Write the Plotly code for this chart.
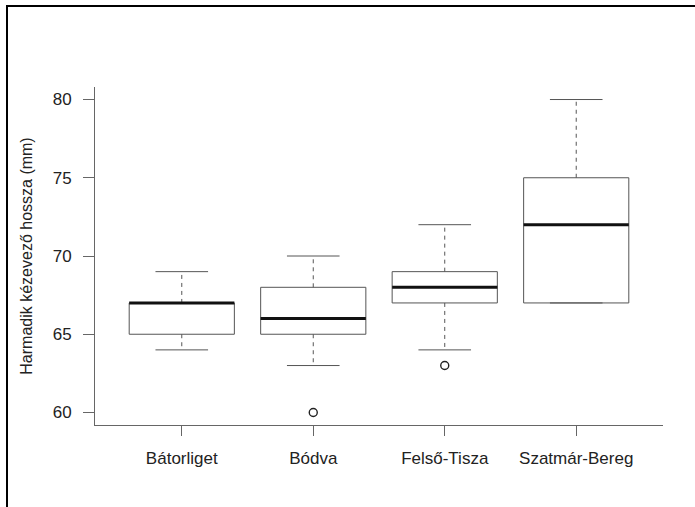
import plotly.graph_objects as go

categories = ["Bátorliget", "Bódva", "Felső-Tisza", "Szatmár-Bereg"]
lower_whisker = [64, 63, 64, 67]
q1 = [65, 65, 67, 67]
median = [67, 66, 68, 72]
q3 = [67, 68, 69, 75]
upper_whisker = [69, 70, 72, 80]
outlier_group = [2, 3]
outlier_value = [60, 63]
y_ticks = [60, 65, 70, 75, 80]
y_title = "Harmadik kézevező hossza (mm)"

BOX_HALF = 0.4
CAP_HALF = 0.2
pos = list(range(1, len(categories) + 1))

box_x, box_y = [], []
med_x, med_y = [], []
wh_x, wh_y = [], []
cap_x, cap_y = [], []
for i, p in enumerate(pos):
    box_x += [p - BOX_HALF, p + BOX_HALF, p + BOX_HALF, p - BOX_HALF, p - BOX_HALF, None]
    box_y += [q1[i], q1[i], q3[i], q3[i], q1[i], None]
    med_x += [p - BOX_HALF, p + BOX_HALF, None]
    med_y += [median[i], median[i], None]
    wh_x += [p, p, None, p, p, None]
    wh_y += [q3[i], upper_whisker[i], None, q1[i], lower_whisker[i], None]
    cap_x += [p - CAP_HALF, p + CAP_HALF, None, p - CAP_HALF, p + CAP_HALF, None]
    cap_y += [upper_whisker[i], upper_whisker[i], None, lower_whisker[i], lower_whisker[i], None]

fig = go.Figure()
fig.add_trace(go.Scatter(x=wh_x, y=wh_y, mode="lines",
                         line=dict(color="#555555", width=1, dash="4px,4px")))
fig.add_trace(go.Scatter(x=cap_x, y=cap_y, mode="lines",
                         line=dict(color="#555555", width=1)))
fig.add_trace(go.Scatter(x=box_x, y=box_y, mode="lines",
                         line=dict(color="#555555", width=1)))
fig.add_trace(go.Scatter(x=med_x, y=med_y, mode="lines",
                         line=dict(color="#111111", width=3)))
fig.add_trace(go.Scatter(x=outlier_group, y=outlier_value, mode="markers",
                         marker=dict(symbol="circle-open", size=8, color="#222222",
                                     line=dict(width=1.4, color="#222222"))))

W, H = 695, 507
L, R, T, B = 95, 32, 87, 82
pw, ph = W - L - R, H - T - B

def px2paper_x(px):
    return (px - L) / pw

def px2paper_y(py):
    return (H - B - py) / ph

fig.add_shape(type="rect", xref="paper", yref="paper",
              x0=px2paper_x(7), x1=px2paper_x(W + 20),
              y0=px2paper_y(H + 20), y1=px2paper_y(6),
              line=dict(color="black", width=2), fillcolor="rgba(0,0,0,0)")

font = dict(family="Liberation Sans, Arial, sans-serif", size=17, color="#222222")
title_font = dict(family="Liberation Sans, Arial, sans-serif", size=16, color="#222222")
fig.update_layout(
    width=W, height=H,
    margin=dict(l=L, r=R, t=T, b=B, pad=0),
    plot_bgcolor="white", paper_bgcolor="white",
    showlegend=False, hovermode=False,
    font=font,
    xaxis=dict(range=[0.34, 4.66], tickvals=pos, ticktext=categories,
               showgrid=False, zeroline=False, showline=True,
               linecolor="#666666", linewidth=1,
               ticks="outside", ticklen=10, tickcolor="#666666", tickwidth=1,
               ticklabelstandoff=8,
               tickfont=font),
    yaxis=dict(range=[59.2, 80.8], tickvals=y_ticks,
               showgrid=False, zeroline=False, showline=True,
               linecolor="#666666", linewidth=1,
               ticks="outside", ticklen=11, tickcolor="#666666", tickwidth=1,
               ticklabelstandoff=8,
               tickfont=font,
               title=dict(text=y_title, font=title_font, standoff=16)),
)

fig.write_html("out.html", config={"displayModeBar": False},
               post_script="document.body.style.margin='0';")
